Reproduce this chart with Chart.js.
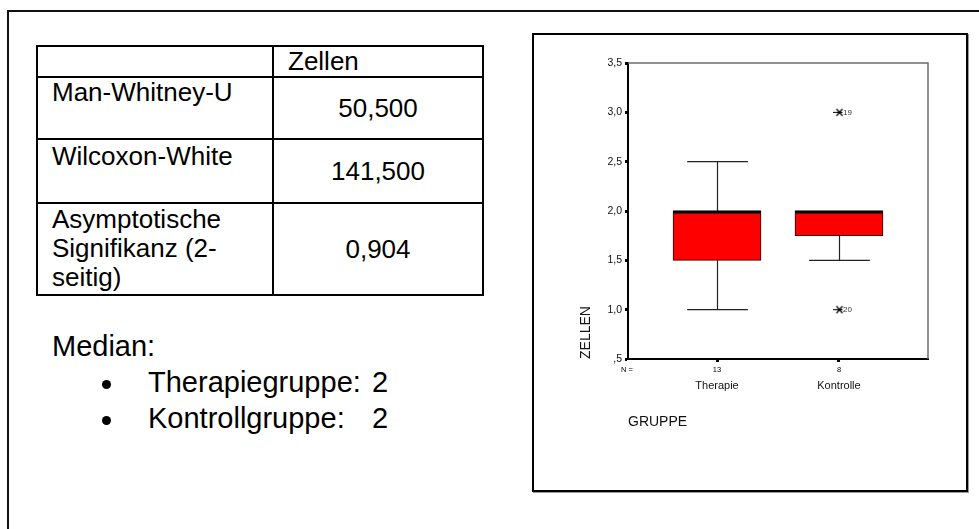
<!DOCTYPE html>
<html lang="de">
<head>
<meta charset="utf-8">
<title>Zellen nach Gruppe</title>
<script src="https://cdn.jsdelivr.net/npm/chart.js@4.4.1/dist/chart.umd.min.js"></script>
<style>
  html, body { margin: 0; padding: 0; background: #fff; }
  body { width: 979px; height: 529px; position: relative; overflow: hidden;
         font-family: "Liberation Sans", Arial, sans-serif; color: #000; }
  #slide { position: absolute; left: 7px; top: 10px; width: 1000px; height: 600px;
           border-left: 2px solid #111; border-top: 2px solid #111; }
  #stats { position: absolute; left: 36px; top: 45px; border-collapse: collapse;
           table-layout: fixed; font-size: 26px; line-height: 29px; }
  #stats td { border: 2px solid #000; padding: 0 0 0 14px; vertical-align: top; white-space: nowrap; }
  #stats td.val { text-align: center; vertical-align: middle; padding: 0; }
  .line { position: absolute; font-size: 29px; line-height: 29px; white-space: nowrap; }
  .dot { position: absolute; width: 9px; height: 9px; border-radius: 50%; background: #000; }
  #frame { position: absolute; left: 532px; top: 33px; width: 432px; height: 455px;
           border: 2px solid #000; box-shadow: 1px 1px 0 #999; }
  #chartBox { position: absolute; left: 535px; top: 36px; width: 430px; height: 453px; }
</style>
</head>
<body>
<div id="slide"></div>
<table id="stats"></table>
<div id="medianBlock"></div>
<div id="frame"></div>
<div id="chartBox"><canvas id="chart" width="430" height="453"></canvas></div>

<script>
// Mann-Whitney test summary
const statColumn = 'Zellen';
const statLabels = [['Man-Whitney-U'], ['Wilcoxon-White'], ['Asymptotische', 'Signifikanz (2-', 'seitig)']];
const statValues = ['50,500', '141,500', '0,904'];

// Box plot of ZELLEN by GRUPPE
const groups = ['Therapie', 'Kontrolle'];
const groupLongNames = ['Therapiegruppe', 'Kontrollgruppe'];
const groupN = [13, 8];
const q1 = [1.5, 1.75];
const medians = [2.0, 2.0];
const q3 = [2.0, 2.0];
const whiskerLow = [1.0, 1.5];
const whiskerHigh = [2.5, 2.0];
const outlierGroups = ['Kontrolle', 'Kontrolle'];
const outlierValues = [3.0, 1.0];
const outlierCases = ['19', '20'];
const yTickValues = [0.5, 1.0, 1.5, 2.0, 2.5, 3.0, 3.5];
const yTickLabels = [',5', '1,0', '1,5', '2,0', '2,5', '3,0', '3,5'];

const FONT = '"Liberation Sans", Arial, sans-serif';

// ---- statistics table ----
(function buildTable() {
  const t = document.getElementById('stats');
  const cg = document.createElement('colgroup');
  [236, 210].forEach(w => { const c = document.createElement('col'); c.style.width = w + 'px'; cg.appendChild(c); });
  t.appendChild(cg);
  const rowHeights = [30, 62, 64, 92];
  const padTop = [0, 0, 2, 1];
  const head = t.insertRow();
  head.style.height = rowHeights[0] + 'px';
  head.insertCell().style.paddingTop = padTop[0] + 'px';
  const hc = head.insertCell();
  hc.textContent = statColumn;
  hc.style.paddingTop = padTop[0] + 'px';
  statLabels.forEach((lines, i) => {
    const r = t.insertRow();
    r.style.height = rowHeights[i + 1] + 'px';
    const a = r.insertCell();
    a.innerHTML = lines.join('<br>');
    a.style.paddingTop = padTop[i + 1] + 'px';
    const b = r.insertCell();
    b.className = 'val';
    b.textContent = statValues[i];
  });
})();

// ---- median list ----
(function buildMedians() {
  const box = document.getElementById('medianBlock');
  const title = document.createElement('div');
  title.className = 'line';
  title.style.left = '52px'; title.style.top = '332px';
  title.textContent = 'Median:';
  box.appendChild(title);
  groupLongNames.forEach((name, i) => {
    const top = 368 + i * 36;
    const dot = document.createElement('div');
    dot.className = 'dot';
    dot.style.left = '102px'; dot.style.top = (top + 12) + 'px';
    box.appendChild(dot);
    const lab = document.createElement('div');
    lab.className = 'line';
    lab.style.left = '148px'; lab.style.top = top + 'px';
    lab.textContent = name + ':';
    box.appendChild(lab);
    const v = document.createElement('div');
    v.className = 'line';
    v.style.left = '372px'; v.style.top = top + 'px';
    v.textContent = String(medians[i]).replace('.', ',');
    box.appendChild(v);
  });
})();

// ---- outlier marker (SPSS style asterisk) ----
function asteriskMarker() {
  const c = document.createElement('canvas');
  c.width = 11; c.height = 9;
  const g = c.getContext('2d');
  g.strokeStyle = '#000';
  g.lineWidth = 1.2;
  g.beginPath();
  g.moveTo(0, 4.5); g.lineTo(9, 4.5);
  g.moveTo(3, 1); g.lineTo(9, 8);
  g.moveTo(9, 1); g.lineTo(3, 8);
  g.stroke();
  return c;
}

// whiskers, medians, frame lines and annotation texts
const boxExtras = {
  id: 'boxExtras',
  beforeDatasetsDraw(chart) {
    const { ctx, chartArea: a } = chart;
    ctx.save();
    ctx.strokeStyle = '#6e6e6e';
    ctx.lineWidth = 1.5;
    ctx.beginPath();
    ctx.moveTo(a.left, a.top); ctx.lineTo(a.right, a.top); ctx.lineTo(a.right, a.bottom);
    ctx.stroke();
    ctx.restore();
  },
  afterDatasetsDraw(chart) {
    const { ctx, chartArea: a, scales: { y } } = chart;
    const bars = chart.getDatasetMeta(0).data;
    ctx.save();
    bars.forEach((bar, i) => {
      const cx = Math.round(bar.x) + 0.5;
      const half = bar.width / 2;
      const cap = bar.width * 0.345;
      const pLow = y.getPixelForValue(whiskerLow[i]);
      const pHigh = y.getPixelForValue(whiskerHigh[i]);
      const pQ1 = y.getPixelForValue(q1[i]);
      const pQ3 = y.getPixelForValue(q3[i]);
      ctx.strokeStyle = '#222';
      ctx.lineWidth = 1.2;
      ctx.beginPath();
      if (whiskerLow[i] < q1[i]) {
        ctx.moveTo(cx, pQ1); ctx.lineTo(cx, pLow);
        ctx.moveTo(cx - cap, pLow); ctx.lineTo(cx + cap, pLow);
      }
      if (whiskerHigh[i] > q3[i]) {
        ctx.moveTo(cx, pQ3); ctx.lineTo(cx, pHigh);
        ctx.moveTo(cx - cap, pHigh); ctx.lineTo(cx + cap, pHigh);
      }
      ctx.stroke();
      // median bar
      const pMed = y.getPixelForValue(medians[i]);
      ctx.strokeStyle = '#000';
      ctx.lineWidth = 3;
      ctx.beginPath();
      ctx.moveTo(bar.x - half, pMed + 1);
      ctx.lineTo(bar.x + half, pMed + 1);
      ctx.stroke();
    });
    // case numbers next to outliers
    ctx.fillStyle = '#333';
    ctx.font = '8px ' + FONT;
    ctx.textAlign = 'left';
    ctx.textBaseline = 'middle';
    chart.getDatasetMeta(1).data.forEach((pt, i) => {
      ctx.fillText(outlierCases[i], pt.x + 4, pt.y);
    });
    // group sizes under the axis
    ctx.fillStyle = '#000';
    ctx.textAlign = 'center';
    ctx.font = '7.5px ' + FONT;
    ctx.fillText('N =', a.left - 1, a.bottom + 10.5);
    bars.forEach((bar, i) => {
      ctx.fillText(String(groupN[i]), bar.x, a.bottom + 10.5);
    });
    ctx.restore();
  }
};

const boxData = groups.map((g, i) => ({ x: i + 1, y: [q1[i], q3[i]] }));
const outlierData = outlierValues.map((v, i) => ({ x: groups.indexOf(outlierGroups[i]) + 1, y: v }));

new Chart(document.getElementById('chart'), {
  type: 'bar',
  data: {
    datasets: [
      {
        type: 'bar',
        data: boxData,
        backgroundColor: '#ff0000',
        borderColor: '#2a0000',
        borderWidth: 1,
        borderSkipped: false,
        barThickness: 88
      },
      {
        type: 'scatter',
        data: outlierData,
        pointStyle: asteriskMarker(),
        pointRadius: 5,
        pointHoverRadius: 5
      }
    ]
  },
  plugins: [boxExtras],
  options: {
    responsive: false,
    animation: false,
    events: [],
    layout: { padding: { top: 27, right: 37, bottom: 0, left: 0 } },
    plugins: { legend: { display: false }, tooltip: { enabled: false } },
    scales: {
      x: {
        type: 'linear',
        min: 0.27,
        max: 2.73,
        offset: false,
        afterBuildTicks: s => { s.ticks = groups.map((g, i) => ({ value: i + 1 })); },
        afterFit: s => { s.height = 130; },
        ticks: {
          callback: (v, i) => groups[i],
          font: { family: FONT, size: 11 },
          color: '#111',
          padding: 17,
          maxRotation: 0
        },
        grid: { display: true, drawOnChartArea: false, offset: false, color: '#000', tickLength: 3, tickWidth: 3 },
        border: { display: true, color: '#000', width: 2 },
        title: {
          display: true,
          text: 'GRUPPE',
          align: 'start',
          color: '#111',
          font: { family: FONT, size: 14 },
          padding: { top: 0, bottom: 58 }
        }
      },
      y: {
        min: 0.5,
        max: 3.5,
        afterBuildTicks: s => { s.ticks = yTickValues.map(v => ({ value: v })); },
        afterFit: s => { s.width = 93; },
        ticks: {
          callback: (v, i) => yTickLabels[i],
          font: { family: FONT, size: 10.5 },
          color: '#111',
          padding: 3
        },
        grid: { display: true, drawOnChartArea: false, color: '#000', tickLength: 3, tickWidth: 3 },
        border: { display: true, color: '#000', width: 2 },
        title: {
          display: true,
          text: 'ZELLEN',
          align: 'start',
          color: '#111',
          font: { family: FONT, size: 14 },
          padding: { top: 43, bottom: 0 }
        }
      }
    }
  }
});
</script>
</body>
</html>
